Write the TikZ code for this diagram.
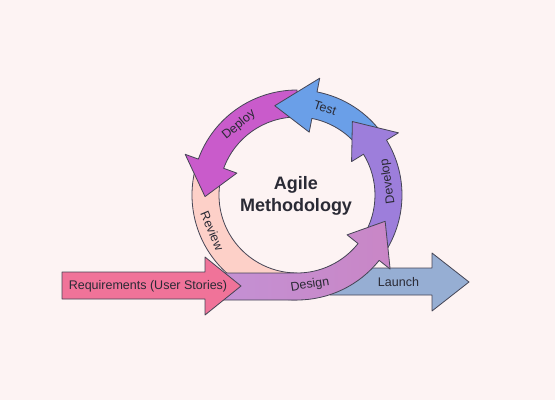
\documentclass[tikz,border=0pt]{standalone}
\usepackage{fontspec}
\setmainfont{Liberation Sans}
\usetikzlibrary{calc}
\definecolor{bg}{HTML}{FDF3F3}
\definecolor{edge}{HTML}{454555}
\definecolor{txt}{HTML}{2A2A35}
\definecolor{reqc}{HTML}{F07399}
\definecolor{reviewc}{HTML}{FDD0C8}
\definecolor{deployc}{HTML}{C95BCB}
\definecolor{testc}{HTML}{6A9FE8}
\definecolor{developc}{HTML}{9D7EDB}
\definecolor{designa}{HTML}{C491D4}
\definecolor{designb}{HTML}{C986C6}
\definecolor{launchc}{HTML}{96AED3}
% #1 style, #2 start angle, #3 head base angle, #4 tip angle
\newcommand{\cyclearrow}[4]{%
  \path[#1] ($(C)+(#2:105pt)$) arc[start angle=#2, end angle=#3, radius=105pt]
    -- ($(C)+(#3:119pt)$) -- ($(C)+(#4:92pt)$) -- ($(C)+(#3:64pt)$)
    -- ($(C)+(#3:78pt)$) arc[start angle=#3, end angle=#2, radius=78pt] -- cycle;}
\begin{document}
\begin{tikzpicture}[x=1pt,y=1pt,
  piece/.style={draw=edge, line width=0.8pt, line join=round},
  lbl/.style={font=\fontsize{12.5}{14}\selectfont, text=txt, inner sep=0pt}]
\useasboundingbox[fill=bg] (0,0) rectangle (555,400);
\coordinate (C) at (297,205);
% Launch
\path[piece, fill=launchc] (330,132) -- (432,132) -- (432,147) -- (469,118)
  -- (432,89) -- (432,105) -- (330,105) -- cycle;
% Review
\path[piece, fill=reviewc] ($(C)+(165:105pt)$) arc[start angle=165, end angle=270, radius=105pt]
  -- ($(C)+(270:78pt)$) arc[start angle=270, end angle=165, radius=78pt] -- cycle;
% Deploy, Test, Develop
\cyclearrow{piece, fill=deployc}{90}{160}{181}
\cyclearrow{piece, fill=testc}{35}{79}{104}
\cyclearrow{piece, fill=developc}{-32}{31.5}{53}
% Design
\shadedraw[piece, left color=designa, right color=designb] (215,100) -- (297,100)
  arc[start angle=-90, end angle=-38.5, radius=105pt]
  -- ($(C)+(-38.5:119pt)$) -- ($(C)+(-16.6:92pt)$) -- ($(C)+(-38.5:64pt)$)
  -- ($(C)+(-38.5:78pt)$) arc[start angle=-38.5, end angle=-90, radius=78pt]
  -- (215,127) -- cycle;
% Requirements
\path[piece, fill=reqc] (62,128) -- (205,128) -- (205,143) -- (241,114)
  -- (205,85) -- (205,101) -- (62,101) -- cycle;
% Labels
\node[lbl, rotate=39.6] (deployL) at ($(C)+(129.6:91pt)$) {Deploy};
\node[lbl, rotate=-17.8] (testL) at ($(C)+(72.2:91.5pt)$) {Test};
\node[lbl, rotate=98.5] (devL) at ($(C)+(8.5:92pt)$) {Develop};
\node[lbl, rotate=-67] (revL) at ($(C)+(203:92pt)$) {Review};
\node[lbl, rotate=9] (desL) at (310,115) {Design};
\node[lbl] (lauL) at (398.5,118) {Launch};
\node[lbl] (reqL) at (148,114) {Requirements (User Stories)};
\node[font=\bfseries\fontsize{18}{21.5}\selectfont, align=center, text=txt, inner sep=0pt] (title) at (296,204) {Agile\\Methodology};
\end{tikzpicture}
\end{document}
